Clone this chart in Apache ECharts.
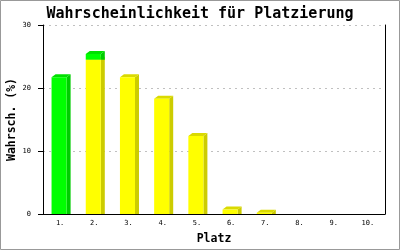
<!DOCTYPE html>
<html>
<head>
<meta charset="utf-8">
<script src="https://cdn.jsdelivr.net/npm/echarts@6/dist/echarts.min.js"></script>
<style>
html,body{margin:0;padding:0;background:#fff;}
#c{width:400px;height:250px;}
</style>
</head>
<body>
<div id="c"></div>
<script>
const titleText = 'Wahrscheinlichkeit für Platzierung';
const categories = ['1.', '2.', '3.', '4.', '5.', '6.', '7.', '8.', '9.', '10.'];
const yellowValues = [0, 24.5, 21.7, 18.3, 12.4, 0.7, 0.2, 0, 0, 0];
const greenValues = [21.7, 0.9, 0, 0, 0, 0, 0, 0, 0, 0];
const yTicks = [0, 10, 20, 30];
const xName = 'Platz';
const yName = 'Wahrsch. (%)';

const MONO = '"DejaVu Sans Mono", "Liberation Mono", monospace';

function makeData(base, vals) {
  return vals.map((v, i) => [i, base ? base[i] : 0, (base ? base[i] : 0) + v, v]);
}

function render3d(colors) {
  return function (params, api) {
    const v = api.value(3);
    if (!(v > 0)) return null;
    const cat = api.value(0);
    const p0 = api.coord([cat, api.value(1)]);
    const p1 = api.coord([cat, api.value(2)]);
    const band = api.size([1, 0])[0];
    const w = band * 0.44;
    const x0 = p0[0] - band * 0.25;
    const x1 = x0 + w;
    const dx = 4, dy = 3;
    const base = p0[1], top = p1[1];
    return {
      type: 'group',
      children: [
        { type: 'polygon', shape: { points: [[x1, top], [x1 + dx, top - dy], [x1 + dx, base], [x1, base]] },
          style: { fill: colors.side } },
        { type: 'polygon', shape: { points: [[x0, top], [x0 + dx, top - dy], [x1 + dx, top - dy], [x1, top]] },
          style: { fill: colors.top } },
        { type: 'rect', shape: { x: x0, y: top, width: w, height: base - top },
          style: { fill: colors.front } }
      ]
    };
  };
}

const chart = echarts.init(document.getElementById('c'), null, { renderer: 'canvas' });
chart.setOption({
  backgroundColor: '#ffffff',
  animation: false,
  title: {
    text: titleText, left: 'center', top: 2,
    textStyle: { fontFamily: MONO, fontSize: 15, fontWeight: 'bold', color: '#000' }
  },
  grid: { left: 43, right: 15, top: 25, bottom: 36, outerBoundsMode: 'none', containLabel: false },
  xAxis: {
    type: 'category', data: categories,
    name: xName, nameLocation: 'middle', nameGap: 19, nameMoveOverlap: false,
    nameTextStyle: { fontFamily: MONO, fontSize: 11.5, fontWeight: 'bold', color: '#000' },
    axisLine: { lineStyle: { color: '#000', width: 1 } },
    axisTick: { show: false },
    axisLabel: { fontFamily: MONO, fontSize: 7, color: '#000', margin: 6 },
    splitLine: { show: false }
  },
  yAxis: [{
    type: 'value', min: yTicks[0], max: yTicks[yTicks.length - 1], interval: 10,
    name: yName, nameLocation: 'middle', nameGap: 25, nameRotate: 90, nameMoveOverlap: false,
    nameTextStyle: { fontFamily: MONO, fontSize: 11.5, fontWeight: 'bold', color: '#000' },
    axisLine: { show: true, lineStyle: { color: '#000', width: 1 } },
    axisTick: { show: true, length: 5, lineStyle: { color: '#000' } },
    axisLabel: { fontFamily: MONO, fontSize: 7, color: '#000', margin: 12 },
    splitLine: { show: true, lineStyle: { color: '#c0c0c0', type: [2, 4], width: 1 } }
  }, {
    type: 'value', min: 0, max: 30, interval: 10, position: 'right',
    axisLine: { show: true, lineStyle: { color: '#000', width: 1 } },
    axisTick: { show: false }, axisLabel: { show: false }, splitLine: { show: false }
  }],
  series: [{
    type: 'custom', name: 'yellow',
    renderItem: render3d({ front: '#ffff00', side: '#cccc00', top: '#dada00' }),
    encode: { x: 0, y: [1, 2] },
    data: makeData(null, yellowValues), z: 2
  }, {
    type: 'custom', name: 'green',
    renderItem: render3d({ front: '#00ff00', side: '#00cc00', top: '#00e000' }),
    encode: { x: 0, y: [1, 2] },
    data: makeData(yellowValues, greenValues), z: 3
  }],
  graphic: [{
    type: 'rect', shape: { x: 0.5, y: 0.5, width: 399, height: 249 },
    style: { fill: null, stroke: '#999999', lineWidth: 1 }, z: 100
  }]
});
</script>
</body>
</html>
